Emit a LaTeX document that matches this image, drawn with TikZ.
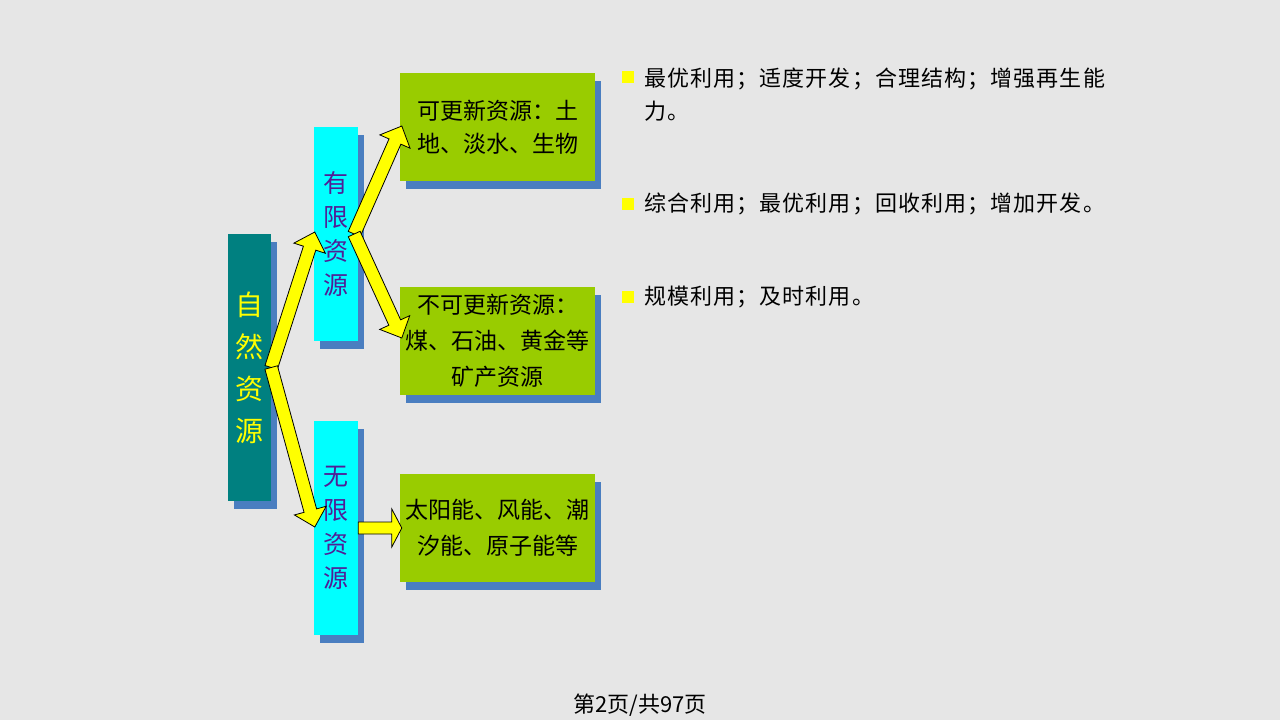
\documentclass[tikz,border=0pt]{standalone}
\usepackage{fontspec}
\setmainfont{Noto Sans CJK SC}
\usetikzlibrary{calc,shadows}
\definecolor{bgc}{RGB}{230,230,230}
\definecolor{tealc}{RGB}{0,128,128}
\definecolor{shadc}{RGB}{74,126,192}
\definecolor{cyanc}{RGB}{0,255,255}
\definecolor{greenc}{RGB}{153,204,0}
\definecolor{purp}{RGB}{80,30,150}
\definecolor{yel}{RGB}{255,255,0}
\tikzset{
  shad/.style={drop shadow={shadow xshift=6pt,shadow yshift=-8pt,fill=shadc,opacity=1}},
  tealbox/.style={shad,fill=tealc,inner sep=0pt,minimum width=43pt,minimum height=267pt,
    text=yel,align=center,font=\fontsize{28}{42}\selectfont},
  cyanbox/.style={shad,fill=cyanc,inner sep=0pt,minimum width=44pt,minimum height=214pt,
    text=purp,align=center,font=\fontsize{25}{34}\selectfont},
  greenbox/.style={shad,fill=greenc,inner sep=0pt,minimum width=195pt,minimum height=108pt,
    text=black,align=center,font=\fontsize{23}{36}\selectfont},
  bulletsq/.style={fill=yel,inner sep=0pt,minimum size=12pt},
  bultext/.style={anchor=west,inner sep=0pt,align=left,text=black,
    font=\fontsize{22}{33}\selectfont\addfontfeature{LetterSpace=5}},
  arrowsty/.style={fill=yel,draw=black,line width=0.8pt,line join=miter},
}
\newcommand{\blockarr}[5]{%
  \path ($(#2)!#5!(#1)$) coordinate (hb);
  \draw[arrowsty] ($(#1)!#3!90:(#2)$) -- ($(hb)!#3!-90:(#1)$) -- ($(hb)!#4!-90:(#1)$)
    -- (#2) -- ($(hb)!#4!90:(#1)$) -- ($(hb)!#3!90:(#1)$) -- ($(#1)!#3!-90:(#2)$) -- cycle;}
\begin{document}
\begin{tikzpicture}[x=1pt,y=-1pt]
\fill[bgc] (0,0) rectangle (1280,720);
\useasboundingbox (0,0) rectangle (1280,720);

\node[tealbox] (zr) at (249.5,367.5) {自\\然\\资\\源};
\node[cyanbox] (yx) at (336,234) {有\\限\\资\\源};
\node[cyanbox] (wx) at (336,528) {无\\限\\资\\源};

\node[greenbox,font=\fontsize{23}{33}\selectfont] (g1) at (497.5,127) {可更新资源：土\\地、淡水、生物};
\node[greenbox] (g2) at (497.5,340.5) {不可更新资源：\\煤、石油、黄金等\\矿产资源};
\node[greenbox] (g3) at (497.5,527.5) {太阳能、风能、潮\\汐能、原子能等};

\node[bulletsq] (b1) at (628,77) {};
\node[bulletsq] (b2) at (628,204) {};
\node[bulletsq] (b3) at (628,297) {};
\node[bultext] (t1) at (644,94.5) {最优利用；适度开发；合理结构；增强再生能\\力。};
\node[bultext] (t2) at (644,204) {综合利用；最优利用；回收利用；增加开发。};
\node[bultext] (t3) at (644,297) {规模利用；及时利用。};

\node[inner sep=0pt,font=\fontsize{22}{26}\selectfont] (ft) at (640,705) {第2页/共97页};

\coordinate (s1) at (zr.east);
\coordinate (a1) at ($(yx.west)+(1,-2)$);
\coordinate (a2) at ($(wx.west)+(1,-1)$);
\coordinate (s2) at ($(yx.east)+(-4,0)$);
\coordinate (a3) at ($(g1.west)+(2,-1)$);
\coordinate (a4) at ($(g2.west)+(2,-2.5)$);
\coordinate (s3) at (wx.east);
\coordinate (a5) at ($(g3.west)+(2,0.5)$);

\blockarr{s1}{a1}{6.5pt}{16.5pt}{17pt}
\blockarr{s1}{a2}{6.5pt}{16.5pt}{17pt}
\blockarr{s2}{a3}{6.5pt}{16.5pt}{17pt}
\blockarr{s2}{a4}{6.5pt}{16.5pt}{17pt}
\blockarr{s3}{a5}{6pt}{19pt}{10pt}
\end{tikzpicture}
\end{document}
